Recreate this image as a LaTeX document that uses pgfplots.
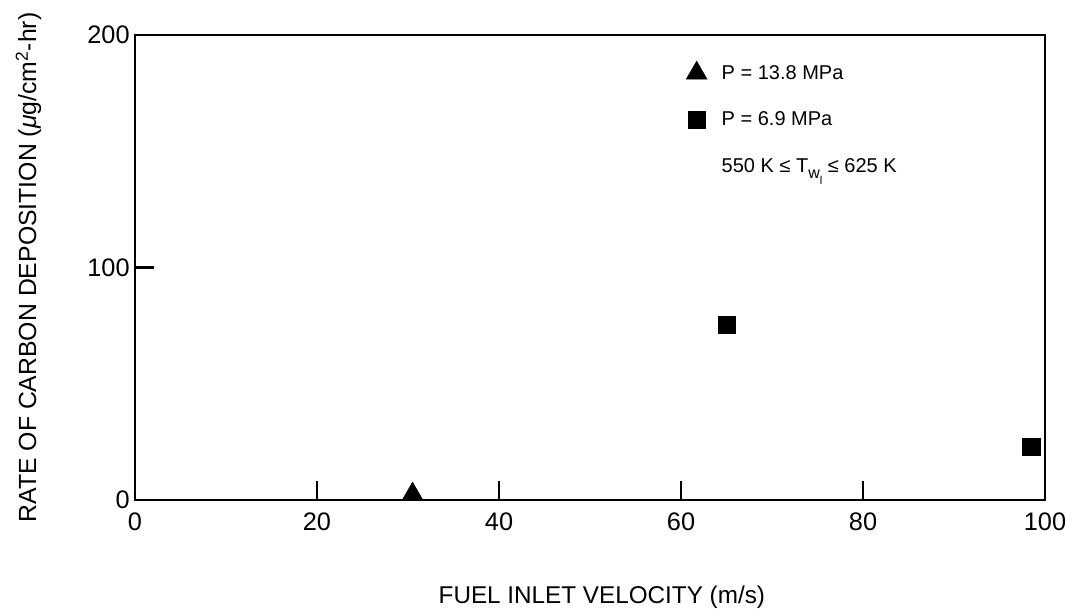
\documentclass[border=0pt]{standalone}
\usepackage{fontspec}
\setmainfont{Liberation Sans}
\usepackage{pgfplots}
\pgfplotsset{compat=1.18}
\begin{document}
\begin{tikzpicture}
\path[use as bounding box] (-101.25pt,-81pt) rectangle (698.25pt,375pt);
\begin{axis}[
  at={(0pt,0pt)}, anchor=south west,
  scale only axis, width=682.5pt, height=348.75pt,
  xmin=0, xmax=100, ymin=0, ymax=200,
  clip=false,
  axis line style={line width=1.9pt},
  xtick={20,40,60,80}, extra x ticks={0,100},
  ytick={100}, extra y ticks={0,200},
  extra tick style={major tick length=0pt},
  xtick pos=left, ytick pos=left,
  tick align=inside, major tick length=14.5pt,
  tick style={line width=1.6pt, black},
  /pgf/number format/assume math mode=true,
  xticklabel style={yshift=-6pt, font=\fontsize{19}{22}\selectfont},
  yticklabel style={xshift=-0.5pt, font=\fontsize{19}{22}\selectfont},
  xlabel={FUEL INLET VELOCITY (m/s)},
  xlabel style={at={(axis description cs:0.513,-0.21)}, anchor=center, font=\fontsize{18.2}{21}\selectfont},
  ylabel={RATE OF CARBON DEPOSITION (\textit{μ}g/cm\textsuperscript{2}-hr)},
  ylabel style={at={(axis description cs:-0.117,0.5)}, anchor=center, font=\fontsize{18.6}{21}\selectfont},
  legend style={draw=none, fill=none, at={(axis description cs:0.6,0.95)}, anchor=north west,
    font=\fontsize{15}{18}\selectfont, row sep=19pt,
    /tikz/every odd column/.append style={column sep=9pt}},
  legend cell align=left,
]
\addplot[only marks, mark=triangle*, mark size=9pt, black] coordinates {(30.5,2.5)};
\addlegendentry{P = 13.8 MPa}
\addplot[only marks, mark=square*, mark size=6.5pt, black, mark options={rounded corners=2pt}] coordinates {(65,75.5) (98.5,22.8)};
\addlegendentry{P = 6.9 MPa}
\addlegendimage{empty legend}
\addlegendentry{550 K ≤ T\raisebox{-0.6ex}{\fontsize{12}{13}\selectfont w\raisebox{-0.7ex}{\fontsize{8.5}{9}\selectfont l}} ≤ 625 K}
\end{axis}
\end{tikzpicture}
\end{document}
